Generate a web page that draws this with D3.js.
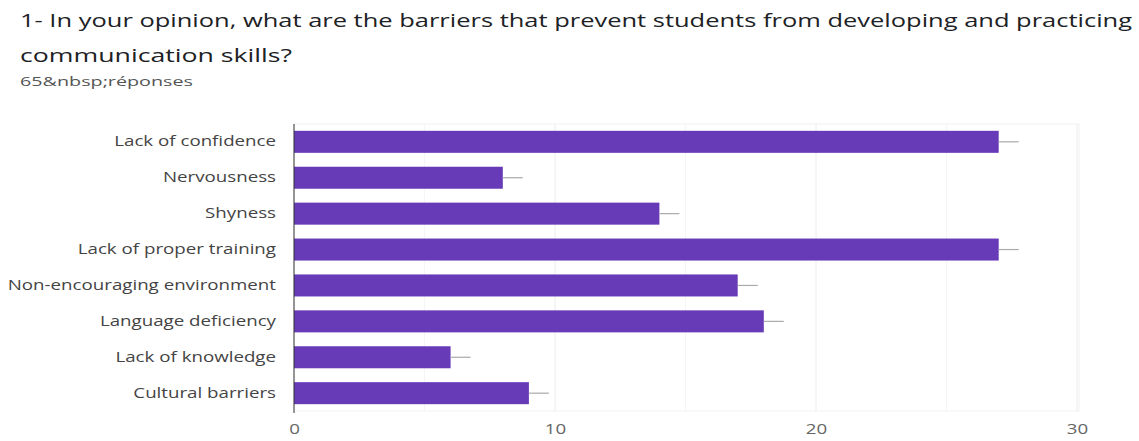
<!DOCTYPE html>
<html><head><meta charset="utf-8">
<script src="https://cdn.jsdelivr.net/npm/d3@7"></script>
<style>body{margin:0;background:#fff;} svg{display:block}</style></head>
<body>
<svg id="c" width="1139" height="441"></svg>
<script>
const categories = ["Lack of confidence","Nervousness","Shyness","Lack of proper training","Non-encouraging environment","Language deficiency","Lack of knowledge","Cultural barriers"];
const counts = [27, 8, 14, 27, 17, 18, 6, 9];
const xTicks = [0, 10, 20, 30];
const gridValues = [5, 10, 15, 20, 25, 30];
const titleLines = ["1- In your opinion, what are the barriers that prevent students from developing and practicing", "communication skills?"];
const subtitle = "65&nbsp;réponses";

const svg = d3.select("#c");
const font = "'Open Sans', 'Liberation Sans', sans-serif";
const stretch = 1.29;

const x = d3.scaleLinear().domain([0, 30]).range([294, 1077]);
const y = d3.scaleBand().domain(categories).range([124, 411]).paddingInner(0.387).paddingOuter(0.19);

// title
svg.append("text").attr("x", 20).attr("y", 27).attr("font-family", font)
  .attr("font-size", 19).attr("fill", "#202124").text(titleLines[0])
  .attr("textLength", 1112).attr("lengthAdjust", "spacingAndGlyphs");
svg.append("text").attr("x", 20).attr("y", 62).attr("font-family", font)
  .attr("font-size", 19).attr("fill", "#202124").text(titleLines[1])
  .attr("textLength", 272).attr("lengthAdjust", "spacingAndGlyphs");
svg.append("text").attr("x", 20).attr("y", 86).attr("font-family", font)
  .attr("font-size", 12.5).attr("fill", "#555").text(subtitle)
  .attr("textLength", 173).attr("lengthAdjust", "spacingAndGlyphs");

// frame
svg.append("rect").attr("x", x(0)).attr("y", 124).attr("width", x(30) + 2 - x(0)).attr("height", 287)
  .attr("fill", "none").attr("stroke", "#f2f2f2");

// gridlines
svg.append("g").selectAll("line").data(gridValues).join("line")
  .attr("x1", d => x(d)).attr("x2", d => x(d)).attr("y1", 124).attr("y2", 411)
  .attr("stroke", d => d % 10 === 0 ? "#ececec" : "#f5f5f5").attr("stroke-width", 1);

// bars
svg.append("g").selectAll("rect").data(categories).join("rect")
  .attr("x", x(0)).attr("y", d => y(d)).attr("height", y.bandwidth())
  .attr("width", (d, i) => x(counts[i]) - x(0)).attr("fill", "#673ab7");

// whiskers
svg.append("g").selectAll("line").data(categories).join("line")
  .attr("x1", (d, i) => x(counts[i])).attr("x2", (d, i) => x(counts[i]) + 20)
  .attr("y1", d => y(d) + y.bandwidth() / 2).attr("y2", d => y(d) + y.bandwidth() / 2)
  .attr("stroke", "#aaa").attr("stroke-width", 1.2);

function widen(sel) {
  sel.each(function () {
    const w = this.getComputedTextLength();
    d3.select(this).attr("textLength", w * stretch).attr("lengthAdjust", "spacingAndGlyphs");
  });
}

// y axis
const yAxis = svg.append("g").attr("transform", `translate(${x(0)},0)`)
  .call(d3.axisLeft(y).tickSize(0).tickPadding(18));
yAxis.select(".domain").attr("stroke", "#333").attr("d", "M0,124V413");
yAxis.selectAll("text").attr("font-family", font).attr("font-size", 14.5).attr("fill", "#444");
widen(yAxis.selectAll("text"));

// x axis
const xAxis = svg.append("g").attr("transform", "translate(0,414)")
  .call(d3.axisBottom(x).tickValues(xTicks).tickSize(0).tickPadding(10).tickFormat(d3.format("d")));
xAxis.select(".domain").remove();
xAxis.selectAll("text").attr("font-family", font).attr("font-size", 14.5).attr("fill", "#666");
widen(xAxis.selectAll("text"));
</script>
</body></html>
